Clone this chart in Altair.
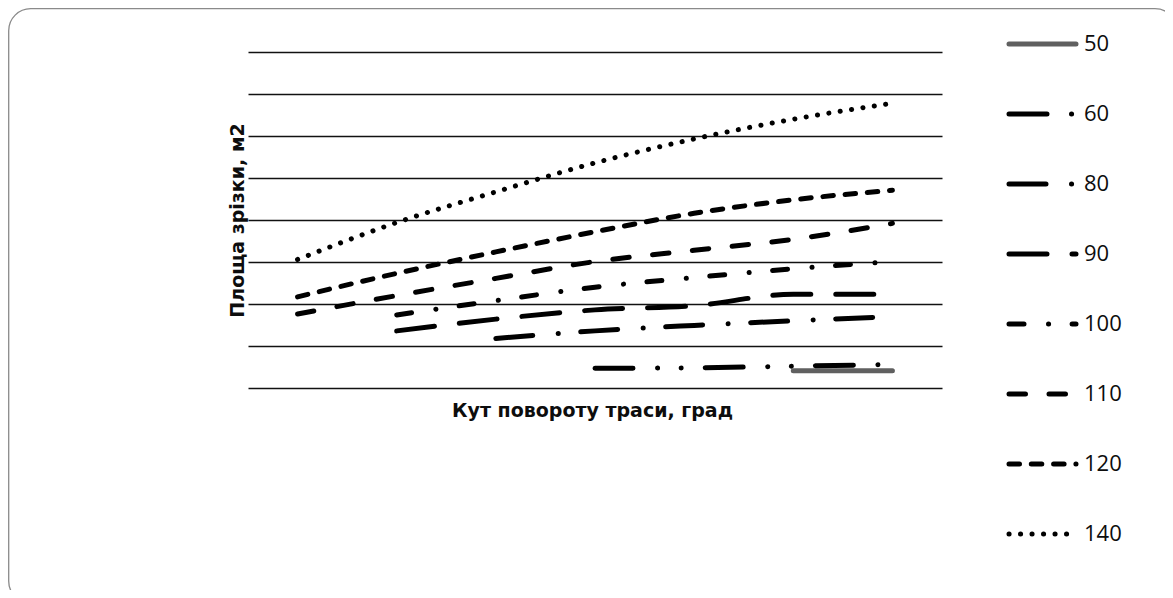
import altair as alt
import pandas as pd

# hidden x categories (turn angle positions)
angles = ["10", "20", "30", "40", "50", "60", "70"]
series_names = ["50", "60", "80", "90", "100", "110", "120", "140"]

s50 = [None, None, None, None, None, 41, 41]
s60 = [None, None, None, 47, 48, 52, 56]
s80 = [None, None, 118, 136, 149, 160, 170]
s90 = [None, 136, 164, 186, 196, 223, 223]
s100 = [None, 174, 208, 240, 263, 284, 301]
s110 = [176, 220, 261, 301, 328, 354, 392]
s120 = [217, 273, 324, 372, 416, 448, 471]
s140 = [306, 394, 467, 536, 593, 640, 678]

all_series = [s50, s60, s80, s90, s100, s110, s120, s140]

colors = ["#606060", "#000000", "#000000", "#000000", "#000000", "#000000", "#000000", "#000000"]
dashes = [
    [1, 0],
    [38, 24.5, 0.1, 23.5, 0.1, 24],
    [37, 25.5, 0.1, 22.5],
    [38, 25],
    [15, 24.5, 0.1, 23.5],
    [16.5, 23.5],
    [10.5, 11.8],
    [0.1, 11.4],
]

rows = []
for name, vals in zip(series_names, all_series):
    for a, v in zip(angles, vals):
        if v is not None:
            rows.append({"angle": a, "area": v, "series": name})
df = pd.DataFrame(rows)

legend_rows = [{"series": s, "pos": p} for s in series_names for p in (0, 1)]
legend_df = pd.DataFrame(legend_rows)
label_df = pd.DataFrame({"series": series_names, "pos": [1] * len(series_names)})

color_enc = alt.Color("series:N", scale=alt.Scale(domain=series_names, range=colors), legend=None)
dash_enc = alt.StrokeDash("series:N", scale=alt.Scale(domain=series_names, range=dashes), legend=None)

TITLE_FONT = "DejaVu Sans"

lines = alt.Chart(df).mark_line(
    strokeWidth=5, strokeCap="round", interpolate="monotone"
).encode(
    x=alt.X(
        "angle:O",
        sort=angles,
        scale=alt.Scale(type="point", padding=0.5),
        axis=alt.Axis(
            labels=False, ticks=False, domain=False, grid=False,
            title="Кут повороту траси, град",
            titleX=344, titleY=28, titleBaseline="alphabetic",
            titleFont=TITLE_FONT, titleFontSize=19, titleFontWeight="bold",
            titleColor="#0d0d0d",
        ),
    ),
    y=alt.Y(
        "area:Q",
        scale=alt.Scale(domain=[0, 800]),
        axis=alt.Axis(
            values=list(range(0, 801, 100)),
            labels=False, ticks=False, domain=False, grid=True,
            gridColor="#111111", gridWidth=1.4, gridOpacity=1,
            title="Площа зрізки, м2",
            titleX=-4.5, titleY=168, titleAngle=270,
            titleBaseline="alphabetic", titleAlign="center",
            titleFont=TITLE_FONT, titleFontSize=19, titleFontWeight="bold",
            titleColor="#0d0d0d",
        ),
    ),
    color=color_enc,
    strokeDash=dash_enc,
)

frame = alt.Chart(alt.Data(values=[{}])).mark_rect(
    filled=False, stroke="#8a8a8a", strokeWidth=1.3, cornerRadius=22
).encode(
    x=alt.value(-239.3), x2=alt.value(929), y=alt.value(-43.3), y2=alt.value(551)
)

leg_x = alt.X("pos:Q", scale=alt.Scale(domain=[0, 1], range=[761, 828]), axis=None)
leg_y = alt.Y(
    "series:N",
    sort=series_names,
    scale=alt.Scale(type="point", domain=series_names, range=[-8, 482], padding=0),
    axis=None,
)

leg_lines = alt.Chart(legend_df).mark_line(strokeWidth=5, strokeCap="round").encode(
    x=leg_x, y=leg_y, color=color_enc, strokeDash=dash_enc
)
leg_text = alt.Chart(label_df).mark_text(
    align="left", baseline="middle", dx=8, font="Open Sans", fontSize=22, color="#0d0d0d"
).encode(x=leg_x, y=leg_y, text="series:N")

legend_layer = alt.layer(leg_lines, leg_text)

chart = alt.layer(frame, lines, legend_layer).resolve_scale(
    x="independent", y="independent"
).properties(
    width=694,
    height=336,
    padding={"left": 240, "top": 44, "right": 223, "bottom": 202},
    autosize=alt.AutoSizeParams(type="none"),
    background="white",
).configure_view(stroke="transparent")

chart.save("out.html", embed_options={"renderer": "svg", "actions": False})
